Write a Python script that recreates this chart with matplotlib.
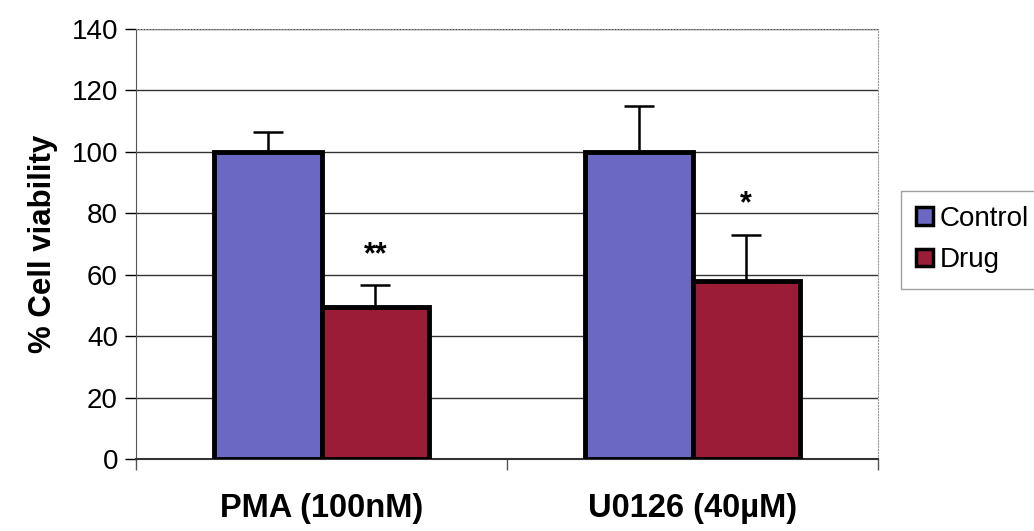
import matplotlib.pyplot as plt
import numpy as np

plt.rcParams['font.family'] = ['Liberation Sans', 'DejaVu Sans']

groups = ['PMA (100nM)', 'U0126 (40µM)']
series = ['Control', 'Drug']
control = [100, 100]
control_err = [6.5, 15]
drug = [49.5, 58]
drug_err = [7, 15]
stars = ['**', '*']

colors = ['#6b68c4', '#9a1c36']

fig = plt.figure(figsize=(10.34, 5.31), dpi=100)
ax = fig.add_axes([136 / 1034, 1 - 459 / 531, 742 / 1034, 430 / 531])

x = np.arange(len(groups))
w = 0.29
ekw = dict(ecolor='black', elinewidth=1.8, capsize=11, capthick=1.8, zorder=2)
# upper error bars only
ax.bar(x - w / 2, control, w, yerr=[np.zeros(2), control_err], color=colors[0],
       edgecolor='black', linewidth=3.5, label=series[0], zorder=3, error_kw=ekw)
ax.bar(x + w / 2, drug, w, yerr=[np.zeros(2), drug_err], color=colors[1],
       edgecolor='black', linewidth=3.5, label=series[1], zorder=3, error_kw=ekw)

for i, s in enumerate(stars):
    top = drug[i] + drug_err[i]
    ax.text(x[i] + w / 2, top + 5, s, ha='center', va='bottom', fontsize=22,
            fontweight='bold')

ax.set_xlim(-0.5, 1.5)
ax.set_ylim(0, 140)
ax.set_yticks(np.arange(0, 141, 20))
ax.set_xticks([-0.5, 0.5, 1.5])
ax.set_xticklabels([])
ax.tick_params(axis='x', length=8, width=1, color='#555555')
ax.tick_params(axis='y', length=8, width=1, labelsize=20, pad=5)
ax.yaxis.grid(True, color='#333333', linewidth=1.0, zorder=0)
ax.set_axisbelow(True)

for sp in ['top', 'right']:
    ax.spines[sp].set_color('#999999')
    ax.spines[sp].set_linestyle(':')
ax.spines['left'].set_color('#555555')
ax.spines['bottom'].set_color('#333333')
ax.spines['bottom'].set_linewidth(1.5)

for i, g in enumerate(groups):
    ax.text(x[i], -16, g, ha='center', va='center', fontsize=23.5, fontweight='bold',
            clip_on=False)

ax.set_ylabel('% Cell viability', fontsize=22.5, fontweight='bold', labelpad=10)

leg = ax.legend(loc='center left', bbox_to_anchor=(1.031, 0.51), fontsize=20,
                frameon=True, fancybox=False, edgecolor='#888888',
                handlelength=0.6, handleheight=0.6, handletextpad=0.25,
                borderpad=0.55, labelspacing=0.55, borderaxespad=0)
leg.get_frame().set_linewidth(1.0)
for h in leg.legend_handles:
    h.set_linewidth(2.5)

plt.savefig('out.png', dpi=100)
